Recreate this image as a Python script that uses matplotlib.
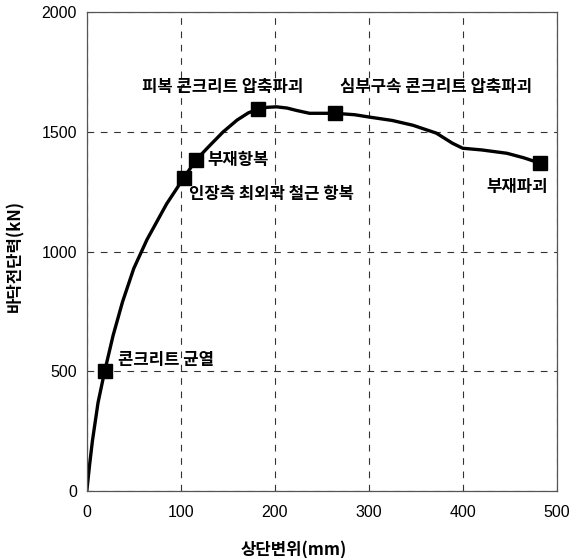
import matplotlib.pyplot as plt

plt.rcParams['font.family'] = ['Noto Sans CJK KR', 'DejaVu Sans']

# Load-displacement curve
disp = [0, 3, 6, 12, 19, 28, 38, 50, 64, 85, 103, 116, 130, 145, 160,
        172, 182, 192, 202, 213, 223, 237, 250, 264, 285, 301, 325, 347, 372,
        389, 400, 420, 447, 465, 482]
shear = [0, 110, 210, 370, 500, 650, 790, 930, 1050, 1200, 1307, 1382,
         1440, 1500, 1550, 1580, 1595, 1603, 1605, 1600, 1590, 1578, 1578,
         1578, 1572, 1562, 1548, 1528, 1495, 1453, 1432, 1425, 1411, 1392, 1370]

# Event points
ev_x = [19, 103, 116, 182, 264, 482]
ev_y = [500, 1307, 1382, 1595, 1578, 1370]

fig = plt.figure(figsize=(5.71, 5.58), dpi=100)
ax = fig.add_axes([0.152, 0.12, 0.823, 0.858])

ax.plot(disp, shear, color='black', lw=2.4, solid_joinstyle='round')
ax.plot(ev_x, ev_y, 's', color='black', ms=10)

ax.set_xlim(0, 500)
ax.set_ylim(0, 2000)
ax.set_xticks([0, 100, 200, 300, 400, 500])
ax.set_yticks([0, 500, 1000, 1500, 2000])
ax.tick_params(length=0, labelsize=11.5)
ax.tick_params(axis='x', pad=10)
ax.tick_params(axis='y', pad=7)
for lab in ax.get_xticklabels() + ax.get_yticklabels():
    lab.set_fontfamily('Liberation Sans')
ax.grid(True, color='#333333', ls=(0, (6, 6)), lw=0.8)
for s in ax.spines.values():
    s.set_color('#555555')
    s.set_linewidth(0.9)

ax.set_xlabel('상단변위(mm)', fontsize=12, fontweight='bold')
ax.set_ylabel('바닥전단력(kN)', fontsize=12, fontweight='bold')
ax.xaxis.set_label_coords(0.44, -0.105)
ax.yaxis.set_label_coords(-0.132, 0.49)

kw = dict(fontsize=12, fontweight='bold', va='center')
ax.text(59, 1687, '피복 콘크리트 압축파괴', **kw)
ax.text(269, 1687, '심부구속 콘크리트 압축파괴', **kw)
ax.text(128, 1383, '부재항복', **kw)
ax.text(109, 1240, '인장측 최외곽 철근 항복', **kw)
ax.text(425, 1270, '부재파괴', **kw)
ax.text(33, 547, '콘크리트 균열', **kw)

fig.savefig('out.png', dpi=100)
